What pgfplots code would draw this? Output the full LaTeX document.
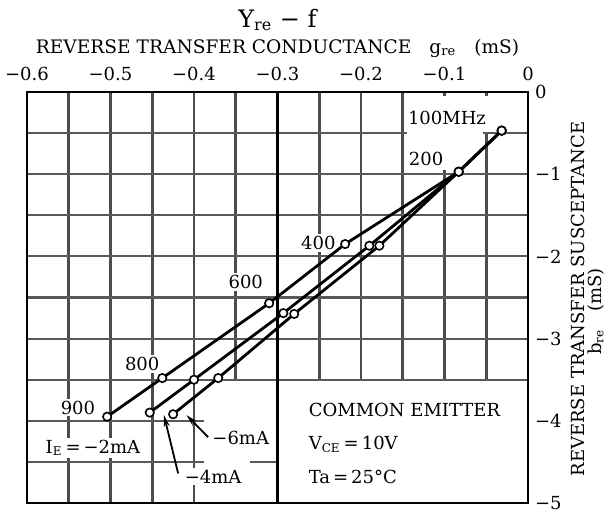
\documentclass[border=0pt]{standalone}
\usepackage{fontspec}
\setmainfont{DejaVu Serif}
\usepackage{pgfplots}
\pgfplotsset{compat=1.18}
\usetikzlibrary{arrows.meta}

\newcommand\lbl{\fontsize{9}{10}\selectfont}

\begin{document}
\begin{tikzpicture}[font=\lbl,
    grid line/.style={black!65, line width=1.05pt},
    grid vline/.style={black!70, line width=1.35pt}]
\begin{axis}[
    name=ax,
    scale only axis,
    width=250.5pt, height=205.5pt,
    xmin=-0.6, xmax=0, ymin=-5, ymax=0,
    clip=false,
    xtick={-0.6,-0.5,-0.4,-0.3,-0.2,-0.1,0},
    xticklabels={−0.6,−0.5,−0.4,−0.3,−0.2,−0.1,0},
    ytick={-5,-4,-3,-2,-1,0},
    yticklabels={−5,−4,−3,−2,−1,0},
    xticklabel pos=right, yticklabel pos=right,
    xticklabel style={yshift=2pt},
    major tick length=0pt,
    axis line style={line width=1.4pt},
    ticklabel style={font=\lbl},
]
% grid, with the gaps of the original sheet
\pgfplotsinvokeforeach{-0.55,-0.5,-0.45,-0.4}{
    \draw[grid vline] (axis cs:#1,0) -- (axis cs:#1,-5);
}
\pgfplotsinvokeforeach{-0.35,-0.25,-0.2,-0.15}{
    \draw[grid vline] (axis cs:#1,0) -- (axis cs:#1,-3.5);
}
\draw[grid vline] (axis cs:-0.1,-0.95) -- (axis cs:-0.1,-3.5);
\draw[grid vline] (axis cs:-0.1,0) -- (axis cs:-0.1,-0.05);
\draw[grid vline] (axis cs:-0.05,-0.5) -- (axis cs:-0.05,-3.5);
\draw[grid vline] (axis cs:-0.05,0) -- (axis cs:-0.05,-0.05);
\draw[grid line] (axis cs:-0.6,-0.5) -- (axis cs:-0.145,-0.5);
\draw[grid line] (axis cs:-0.054,-0.5) -- (axis cs:0,-0.5);
\pgfplotsinvokeforeach{-1,-1.5,-2,-2.5,-3,-3.5}{
    \draw[grid line] (axis cs:-0.6,#1) -- (axis cs:0,#1);
}
\draw[grid line] (axis cs:-0.6,-4) -- (axis cs:-0.388,-4);
\draw[grid line] (axis cs:-0.6,-4.5) -- (axis cs:-0.388,-4.5);
\draw[grid line] (axis cs:-0.333,-4.5) -- (axis cs:-0.3,-4.5);
\draw[black, line width=1.3pt] (axis cs:-0.3,0) -- (axis cs:-0.3,-5);

% labels
\node[fill=white, inner sep=1pt] at (axis cs:-0.097,-0.32) {100MHz};
\node[fill=white, inner sep=1pt] at (axis cs:-0.122,-0.82) {200};
\node[fill=white, inner sep=1pt] at (axis cs:-0.251,-1.84) {400};
\node[fill=white, inner sep=1pt] at (axis cs:-0.338,-2.31) {600};
\node[fill=white, inner sep=1pt] at (axis cs:-0.462,-3.31) {800};
\node[fill=white, inner sep=1pt] at (axis cs:-0.539,-3.84) {900};
\node[fill=white, inner sep=1pt] at (axis cs:-0.521,-4.33) {I\textsubscript{E}\,=\,−2mA};
\node[fill=white, inner sep=1pt] at (axis cs:-0.344,-4.21) {−6mA};
\node[fill=white, inner sep=1pt] at (axis cs:-0.377,-4.68) {−4mA};
\node[anchor=west, inner sep=0pt] at (axis cs:-0.263,-3.87) {COMMON EMITTER};
\node[anchor=west, inner sep=0pt] at (axis cs:-0.263,-4.29) {V\textsubscript{CE}\,=\,10V};
\node[anchor=west, inner sep=0pt] at (axis cs:-0.263,-4.68) {Ta\,=\,25°C};

% titles
\node[font=\fontsize{12}{14}\selectfont] at (axis cs:-0.3,0.876) {Y\textsubscript{re} − f};
\node[font=\fontsize{9.3}{11}\selectfont] at (axis cs:-0.3,0.535)
    {REVERSE TRANSFER CONDUCTANCE\hspace{9pt}g\textsubscript{re}\hspace{9pt}(mS)};
\node[rotate=90] at (axis cs:0.060,-2.52) {REVERSE TRANSFER SUSCEPTANCE};
\node[rotate=90] at (axis cs:0.0814,-2.67) {b\textsubscript{re}\hspace{9pt}(mS)};

% I_E = -2 mA
\addplot[black, line width=1.4pt, mark=*, mark size=2.1pt,
    mark options={fill=white, line width=0.8pt}] coordinates {
    (-0.0315,-0.47) (-0.083,-0.97) (-0.219,-1.85)
    (-0.310,-2.57) (-0.438,-3.48) (-0.504,-3.95)
};
% I_E = -4 mA
\addplot[black, line width=1.4pt, mark=*, mark size=2.1pt,
    mark options={fill=white, line width=0.8pt}] coordinates {
    (-0.0315,-0.47) (-0.083,-0.97) (-0.190,-1.87)
    (-0.293,-2.69) (-0.400,-3.50) (-0.453,-3.90)
};
% I_E = -6 mA
\addplot[black, line width=1.4pt, mark=*, mark size=2.1pt,
    mark options={fill=white, line width=0.8pt}] coordinates {
    (-0.0315,-0.47) (-0.083,-0.97) (-0.178,-1.87)
    (-0.280,-2.70) (-0.371,-3.48) (-0.425,-3.92)
};

% pointers
\draw[line width=0.9pt, -{Stealth[length=6pt, width=3pt]}]
    (axis cs:-0.383,-4.20) -- (axis cs:-0.409,-3.93);
\draw[line width=0.9pt, -{Stealth[length=6pt, width=3pt]}]
    (axis cs:-0.419,-4.64) -- (axis cs:-0.436,-3.93);

\draw[line width=1.4pt] (rel axis cs:0,0) rectangle (rel axis cs:1,1);
\end{axis}
\pgfresetboundingbox
\path[use as bounding box] ([xshift=-13.5pt,yshift=-5pt]ax.south west)
    rectangle ([xshift=38.5pt,yshift=46pt]ax.north east);
\end{tikzpicture}
\end{document}
